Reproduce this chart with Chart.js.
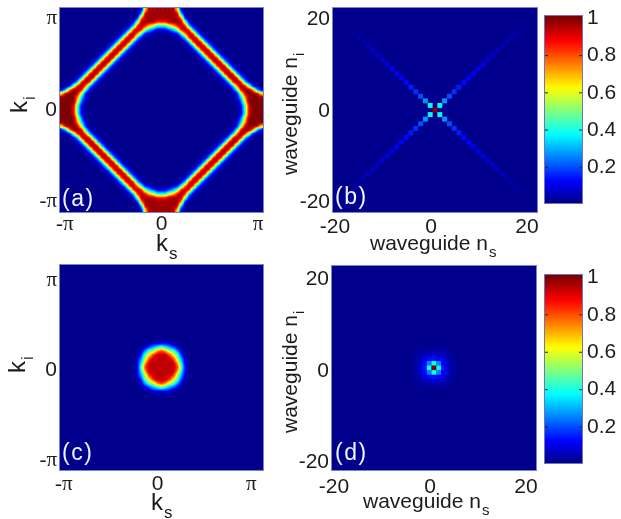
<!DOCTYPE html>
<html>
<head>
<meta charset="utf-8">
<style>
  body { margin: 0; background: #fff; }
  canvas { position: absolute; filter: blur(0.3px); }
</style>
<script src="https://cdn.jsdelivr.net/npm/chart.js@4/dist/chart.umd.min.js"></script>
</head>
<body>
<canvas id="panelA" width="290" height="260" style="left:0;top:0"></canvas>
<canvas id="panelB" width="270" height="260" style="left:280px;top:0"></canvas>
<canvas id="barB" width="81" height="260" style="left:540px;top:0"></canvas>
<canvas id="panelC" width="290" height="259" style="left:0;top:260px"></canvas>
<canvas id="panelD" width="270" height="259" style="left:280px;top:260px"></canvas>
<canvas id="barD" width="81" height="259" style="left:540px;top:260px"></canvas>
<script>
// tick labels
const kTicks = [-Math.PI, 0, Math.PI];
const kLabels = ["-π", "0", "π"];
const nTicks = [-20, 0, 20];
const nLabels = ["-20", "0", "20"];
const barTicks = [0.2, 0.4, 0.6, 0.8, 1];

// panel (a), read by eye on a 51 x 51 grid. 0-9 = tenths, a = 1
const rowsA = [
  "0000000000000000000017aaaaaaa7100000000000000000000",
  "000000000000000000003aaaaaaaaa300000000000000000000",
  "000000000000000000018aaaaaaaaa810000000000000000000",
  "00000000000000000015aaaa999aaaa51000000000000000000",
  "00000000000000000139a976444679a93100000000000000000",
  "0000000000000000139a95321112359a9310000000000000000",
  "000000000000000139a8411000001148a931000000000000000",
  "00000000000000139a931000000000139a93100000000000000",
  "0000000000000139a93100000000000139a9310000000000000",
  "000000000000139a9310000000000000139a931000000000000",
  "00000000000139a931000000000000000139a93100000000000",
  "0000000000139a93100000000000000000139a9310000000000",
  "000000000139a9310000000000000000000139a931000000000",
  "00000000139a931000000000000000000000139a93100000000",
  "0000000139a93100000000000000000000000139a9310000000",
  "000000139a9310000000000000000000000000139a931000000",
  "00000139a931000000000000000000000000000139a93100000",
  "0000139a93100000000000000000000000000000139a9310000",
  "000139a9310000000000000000000000000000000139a931000",
  "00159a831000000000000000000000000000000000138a95100",
  "138aa94100000000000000000000000000000000000149aa831",
  "7aaa9510000000000000000000000000000000000000159aaa7",
  "aaaa7310000000000000000000000000000000000000137aaaa",
  "aaaa6200000000000000000000000000000000000000026aaaa",
  "aaa941000000000000000000000000000000000000000149aaa",
  "aaa941000000000000000000000000000000000000000149aaa",
  "aaa941000000000000000000000000000000000000000149aaa",
  "aaaa6200000000000000000000000000000000000000026aaaa",
  "aaaa7310000000000000000000000000000000000000137aaaa",
  "7aaa9510000000000000000000000000000000000000159aaa7",
  "138aa94100000000000000000000000000000000000149aa831",
  "00159a831000000000000000000000000000000000138a95100",
  "000139a9310000000000000000000000000000000139a931000",
  "0000139a93100000000000000000000000000000139a9310000",
  "00000139a931000000000000000000000000000139a93100000",
  "000000139a9310000000000000000000000000139a931000000",
  "0000000139a93100000000000000000000000139a9310000000",
  "00000000139a931000000000000000000000139a93100000000",
  "000000000139a9310000000000000000000139a931000000000",
  "0000000000139a93100000000000000000139a9310000000000",
  "00000000000139a931000000000000000139a93100000000000",
  "000000000000139a9310000000000000139a931000000000000",
  "0000000000000139a93100000000000139a9310000000000000",
  "00000000000000139a931000000000139a93100000000000000",
  "000000000000000139a8411000001148a931000000000000000",
  "0000000000000000139a95321112359a9310000000000000000",
  "00000000000000000139a976444679a93100000000000000000",
  "00000000000000000015aaaa999aaaa51000000000000000000",
  "000000000000000000018aaaaaaaaa810000000000000000000",
  "000000000000000000003aaaaaaaaa300000000000000000000",
  "0000000000000000000017aaaaaaa7100000000000000000000"
];

// panel (c), middle of the same kind of grid, everything else is background
const rowsC = [
  "0000111110000",
  "0012345432100",
  "0135689865310",
  "02579aaa97520",
  "1369aaaaa9631",
  "148aaaaaaa841",
  "159aaaaaaa951",
  "148aaaaaaa841",
  "1369aaaaa9631",
  "02579aaa97520",
  "0135689865310",
  "0012345432100",
  "0000111110000"
];

// panel (b): value on the diagonal arms, by distance from waveguide 0
const armSteps = [0, 1, 2, 3, 4, 5, 6, 7, 8, 9, 10, 11, 12, 13, 14, 15, 16, 17, 18];
const armValues = [1, 0.37, 0.27, 0.2, 0.17, 0.15, 0.13, 0.12, 0.11, 0.1, 0.09, 0.08, 0.07, 0.06, 0.055, 0.045, 0.04, 0.03, 0.02];

// panel (d): centre block, waveguides -4..4
const rowsD = [
  [0.02, 0.02, 0.03, 0.03, 0.03, 0.03, 0.03, 0.02, 0.02],
  [0.02, 0.03, 0.05, 0.06, 0.07, 0.06, 0.05, 0.03, 0.02],
  [0.03, 0.05, 0.09, 0.13, 0.14, 0.13, 0.09, 0.05, 0.03],
  [0.03, 0.06, 0.13, 0.25, 0.38, 0.25, 0.13, 0.06, 0.03],
  [0.03, 0.07, 0.14, 0.38, 1.00, 0.38, 0.14, 0.07, 0.03],
  [0.03, 0.06, 0.13, 0.25, 0.38, 0.25, 0.13, 0.06, 0.03],
  [0.03, 0.05, 0.09, 0.13, 0.14, 0.13, 0.09, 0.05, 0.03],
  [0.02, 0.03, 0.05, 0.06, 0.07, 0.06, 0.05, 0.03, 0.02],
  [0.02, 0.02, 0.03, 0.03, 0.03, 0.03, 0.03, 0.02, 0.02]
];

// colorbar steps
const barLevels = [0.02, 0.04, 0.06, 0.08, 0.1, 0.12, 0.14, 0.16, 0.18, 0.2,
  0.22, 0.24, 0.26, 0.28, 0.3, 0.32, 0.34, 0.36, 0.38, 0.4,
  0.42, 0.44, 0.46, 0.48, 0.5, 0.52, 0.54, 0.56, 0.58, 0.6,
  0.62, 0.64, 0.66, 0.68, 0.7, 0.72, 0.74, 0.76, 0.78, 0.8,
  0.82, 0.84, 0.86, 0.88, 0.9, 0.92, 0.94, 0.96, 0.98, 1, 1.013];

const SANS = "'Liberation Sans', Arial, sans-serif";
const SERIF = "'Liberation Serif', serif";
const TEXT = "#1c1c1c";

function jetRgb(v) {
  const c = (x) => Math.round(255 * Math.min(1, Math.max(0, 1.5 - Math.abs(4 * v - x))));
  return [c(3), c(2), c(1)];
}

function jet(v) {
  return `rgb(${jetRgb(v).join(",")})`;
}

function gray(v) {
  const g = Math.round(v * 255);
  return `rgb(${g},${g},${g})`;
}

// digit rows -> cells. stepX / stepY = data units per grid cell
function cellsFromRows(rows, stepX, stepY) {
  const cells = [];
  rows.forEach((row, r) => {
    for (let i = 0; i < row.length; i++) {
      const v = parseInt(row[i], 36) / 10;
      if (v > 0) {
        cells.push({ x: (i - (row.length - 1) / 2) * stepX, y: ((rows.length - 1) / 2 - r) * stepY, v: v });
      }
    }
  });
  return cells;
}

function cellsFromArms() {
  const cells = [];
  armSteps.forEach((n, k) => {
    const spots = n === 0 ? [[0, 0]] : [[n, n], [-n, n], [n, -n], [-n, -n]];
    spots.forEach(([x, y]) => cells.push({ x: x, y: y, v: armValues[k] }));
  });
  return cells;
}

function cellsFromNumbers(rows) {
  const cells = [];
  rows.forEach((row, r) => {
    row.forEach((v, i) => cells.push({ x: i - 4, y: 4 - r, v: v }));
  });
  return cells;
}

// axis title with a subscript, drawn from its starting point
function drawTitle(ctx, main, sub, x, y, size, vertical) {
  ctx.save();
  ctx.translate(x, y);
  if (vertical) ctx.rotate(-Math.PI / 2);
  ctx.fillStyle = TEXT;
  ctx.textAlign = "left";
  ctx.textBaseline = "alphabetic";
  ctx.font = `${size}px ${SANS}`;
  ctx.fillText(main, 0, 0);
  const w = ctx.measureText(main).width;
  ctx.font = `${Math.round(size * 0.72)}px ${SANS}`;
  ctx.fillText(sub, w + 1, size * 0.33);
  ctx.restore();
}

// blur the chart area in place
function soften(chart, amount) {
  const a = chart.chartArea;
  const ctx = chart.ctx;
  ctx.save();
  ctx.beginPath();
  ctx.rect(a.left, a.top, a.width, a.height);
  ctx.clip();
  ctx.filter = `blur(${amount}px)`;
  ctx.drawImage(chart.canvas, a.left, a.top, a.width, a.height, a.left, a.top, a.width, a.height);
  ctx.restore();
}

function heatChart(id, p) {
  // k-space panels are smooth images: cells go down in gray, get smoothed, then coloured.
  // waveguide panels keep their square cells, so they are coloured straight away.
  const paint = p.shaded ? gray : jet;

  const panelPlugin = {
    id: "panel",
    beforeDatasetsDraw(chart) {
      const a = chart.chartArea;
      chart.ctx.fillStyle = paint(0.012);
      chart.ctx.fillRect(a.left, a.top, a.width, a.height);
    },
    afterDatasetsDraw(chart) {
      soften(chart, p.soften);
      if (!p.shaded) return;
      const a = chart.chartArea;
      const img = chart.ctx.getImageData(a.left, a.top, a.width, a.height);
      for (let i = 0; i < img.data.length; i += 4) {
        const rgb = jetRgb(img.data[i] / 255);
        img.data[i] = rgb[0];
        img.data[i + 1] = rgb[1];
        img.data[i + 2] = rgb[2];
      }
      chart.ctx.putImageData(img, a.left, a.top);
    },
    afterDraw(chart) {
      const a = chart.chartArea;
      const ctx = chart.ctx;
      ctx.save();
      ctx.strokeStyle = "#7d84c4";
      ctx.lineWidth = 1;
      ctx.strokeRect(a.left - 0.5, a.top - 0.5, a.width + 1, a.height + 1);
      ctx.fillStyle = "#f4f4ff";
      ctx.font = `23px ${SANS}`;
      ctx.letterSpacing = "1.5px";
      ctx.textBaseline = "alphabetic";
      ctx.fillText(p.letter, p.letterX, p.letterY);
      ctx.restore();
      drawTitle(ctx, p.xTitle, "s", p.xTitleX, p.xTitleY, p.titleSize, false);
      drawTitle(ctx, p.yTitle, "i", p.yTitleX, p.yTitleY, p.titleSize, true);
    },
  };

  const tickFont = (label) => (label === "π" || label === "-π"
    ? { family: SERIF, size: 21 }
    : { family: SANS, size: 21 });

  return new Chart(document.getElementById(id), {
    type: "scatter",
    data: {
      datasets: [{
        data: p.cells,
        pointStyle: "rect",
        pointRadius: p.radius,
        pointHoverRadius: p.radius,
        pointBorderWidth: 0,
        pointBackgroundColor: p.cells.map((c) => paint(c.v)),
      }],
    },
    options: {
      responsive: false,
      animation: false,
      devicePixelRatio: 1,
      layout: { padding: { left: 0, top: p.top, right: p.right, bottom: 0 } },
      plugins: { legend: { display: false }, tooltip: { enabled: false } },
      scales: {
        x: {
          type: "linear",
          min: -p.xLimit,
          max: p.xLimit,
          grid: { display: false, drawTicks: false },
          border: { display: false },
          afterBuildTicks: (s) => { s.ticks = p.ticks.map((value) => ({ value })); },
          afterFit: (s) => { s.height = p.bottom; s.paddingLeft = 0; s.paddingRight = 0; },
          ticks: {
            autoSkip: false,
            maxRotation: 0,
            padding: p.xPad,
            color: TEXT,
            labelOffset: p.xLabelOffset,
            font: (c) => tickFont(p.labels[p.ticks.indexOf(c.tick ? c.tick.value : 0)]),
            callback: (v, i) => p.labels[i],
          },
        },
        y: {
          type: "linear",
          min: -p.yLimit,
          max: p.yLimit,
          grid: { display: false, drawTicks: false },
          border: { display: false },
          afterBuildTicks: (s) => { s.ticks = p.ticks.map((value) => ({ value })); },
          afterFit: (s) => { s.width = p.left; s.paddingTop = 0; s.paddingBottom = 0; },
          ticks: {
            autoSkip: false,
            padding: 3,
            color: TEXT,
            labelOffset: p.yLabelOffset,
            font: (c) => tickFont(p.labels[p.ticks.indexOf(c.tick ? c.tick.value : 0)]),
            callback: (v, i) => p.labels[i],
          },
        },
      },
    },
    plugins: [panelPlugin],
  });
}

function colorBar(id, top, bottom) {
  const tickPlugin = {
    id: "barTicks",
    afterDatasetsDraw(chart) {
      soften(chart, 1.5);
    },
    afterDraw(chart) {
      const a = chart.chartArea;
      const ctx = chart.ctx;
      const y = chart.scales.y;
      ctx.save();
      ctx.strokeStyle = "#6f76b8";
      ctx.strokeRect(a.left - 0.5, a.top - 0.5, a.width + 1, a.height + 1);
      ctx.strokeStyle = "#222";
      y.ticks.forEach((t) => {
        const py = y.getPixelForValue(t.value);
        ctx.beginPath();
        ctx.moveTo(a.left, py);
        ctx.lineTo(a.left + 3, py);
        ctx.moveTo(a.right - 3, py);
        ctx.lineTo(a.right, py);
        ctx.stroke();
      });
      ctx.restore();
    },
  };

  return new Chart(document.getElementById(id), {
    type: "bar",
    data: {
      labels: [""],
      datasets: barLevels.map((level, i) => ({
        data: [[i === 0 ? 0 : barLevels[i - 1], level]],
        backgroundColor: jet(level - 0.01),
        borderWidth: 0,
        barPercentage: 1,
        categoryPercentage: 1,
      })),
    },
    options: {
      responsive: false,
      animation: false,
      devicePixelRatio: 1,
      layout: { padding: { left: 5, top: top, right: 0, bottom: bottom } },
      plugins: { legend: { display: false }, tooltip: { enabled: false } },
      scales: {
        x: { display: false, stacked: true },
        y: {
          position: "right",
          min: 0.008,
          max: 1.013,
          grid: { display: false, drawTicks: false },
          border: { display: false },
          afterBuildTicks: (s) => { s.ticks = barTicks.map((value) => ({ value })); },
          afterFit: (s) => { s.width = 39; s.paddingTop = 0; s.paddingBottom = 0; },
          ticks: {
            padding: 5,
            color: TEXT,
            font: { family: SANS, size: 21 },
            callback: (v) => String(v),
          },
        },
      },
    },
    plugins: [tickPlugin],
  });
}

const xLimA = 3.3, yLimA = 3.52;
const xLimC = 3.4, yLimC = 3.56;
const xLimN = 21.25, yLimN = 22.3;

heatChart("panelA", {
  cells: cellsFromRows(rowsA, (2 * xLimA) / 51, (2 * yLimA) / 51),
  ticks: kTicks, labels: kLabels, xLimit: xLimA, yLimit: yLimA, xLabelOffset: 0, yLabelOffset: 0, xPad: 0,
  left: 60, right: 27, top: 8, bottom: 48, radius: 3, soften: 1.6, shaded: true,
  letter: "(a)", letterX: 62, letterY: 206,
  xTitle: "k", xTitleX: 156, xTitleY: 251,
  yTitle: "k", yTitleX: 27, yTitleY: 113, titleSize: 24,
});
heatChart("panelB", {
  cells: cellsFromArms(),
  ticks: nTicks, labels: nLabels, xLimit: xLimN, yLimit: yLimN, xLabelOffset: -4, yLabelOffset: 1, xPad: 3,
  left: 53, right: 13, top: 8, bottom: 48, radius: 3.5, soften: 0.6, shaded: false,
  letter: "(b)", letterX: 55, letterY: 204,
  xTitle: "waveguide n", xTitleX: 90, xTitleY: 250,
  yTitle: "waveguide n", yTitleX: 17, yTitleY: 175, titleSize: 21,
});
colorBar("barB", 16, 57);
heatChart("panelC", {
  cells: cellsFromRows(rowsC, (2 * xLimC) / 51, (2 * yLimC) / 51),
  ticks: kTicks, labels: kLabels, xLimit: xLimC, yLimit: yLimC, xLabelOffset: -4, yLabelOffset: 3, xPad: 2,
  left: 60, right: 27, top: 5, bottom: 49, radius: 3, soften: 1.6, shaded: true,
  letter: "(c)", letterX: 62, letterY: 200,
  xTitle: "k", xTitleX: 151, xTitleY: 250,
  yTitle: "k", yTitleX: 25, yTitleY: 113, titleSize: 24,
});
heatChart("panelD", {
  cells: cellsFromNumbers(rowsD),
  ticks: nTicks, labels: nLabels, xLimit: xLimN, yLimit: yLimN, xLabelOffset: -4, yLabelOffset: 3, xPad: 5,
  left: 52, right: 14, top: 6, bottom: 49, radius: 3.5, soften: 0.6, shaded: false,
  letter: "(d)", letterX: 55, letterY: 200,
  xTitle: "waveguide n", xTitleX: 83, xTitleY: 248,
  yTitle: "waveguide n", yTitleX: 17, yTitleY: 173, titleSize: 21,
});
colorBar("barD", 15, 56);
</script>
</body>
</html>
